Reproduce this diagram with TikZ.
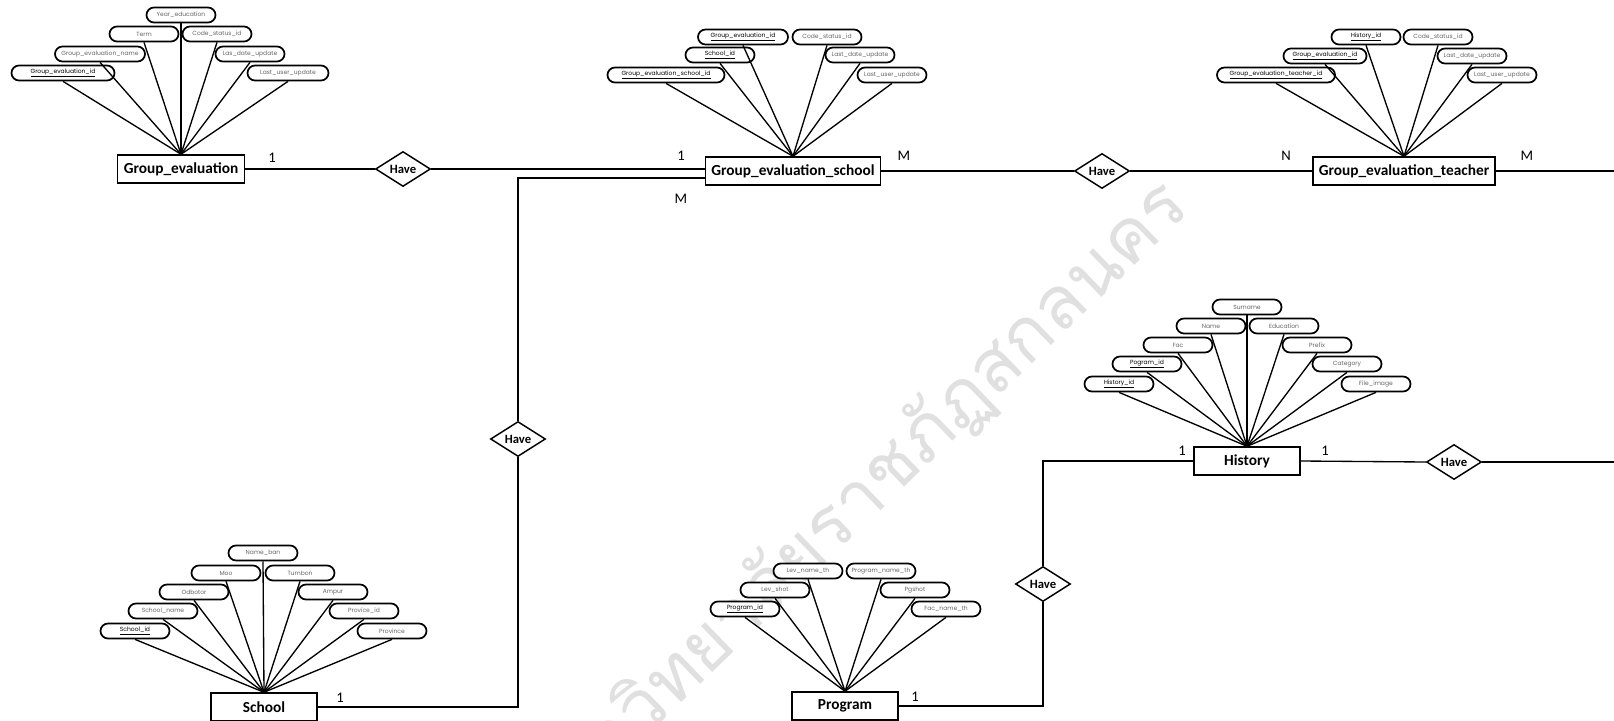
\documentclass[tikz,border=0pt]{standalone}
\usepackage{fontspec}
\setmainfont{Carlito}
\newfontfamily\attrfont{Poppins}
\newfontfamily\thaifont[Script=Thai]{Loma}
\usetikzlibrary{shapes.geometric}

\tikzset{
  entity/.style={draw, line width=1.1pt, fill=white, minimum width=79.5pt, minimum height=21pt,
    inner xsep=4.5pt, font=\bfseries\fontsize{11.5}{12}\selectfont},
  attr/.style={draw, line width=1.3pt, fill=white, rounded corners=5.6pt, minimum width=51.75pt,
    minimum height=11.25pt, inner sep=0pt, text=black!60, font=\attrfont\fontsize{4.5}{5}\selectfont},
  keyattr/.style={attr, text=black},
  relation/.style={diamond, draw, line width=1.1pt, fill=white, inner sep=0pt, minimum width=41.25pt,
    minimum height=26.25pt, font=\bfseries\fontsize{9.5}{10}\selectfont},
  card/.style={font=\fontsize{11}{12}\selectfont},
  link/.style={line width=1pt},
  stamp/.style={rotate=44, anchor=base east, text=black!12, inner sep=0pt,
    font=\thaifont\fontsize{55}{55}\selectfont},
}

\begin{document}
\begin{tikzpicture}[x=0.75pt, y=-0.75pt]
  \useasboundingbox (0,0) rectangle (1614,721);
  % watermark
  \begin{scope}
    \clip (0,0) rectangle (1614,721);
    \node[stamp] (wm) at (1192,210) {มหาวิทยาลัยราชภัฏสกลนคร};
  \end{scope}

  % entities
  \node[entity] (ge)  at (181,169)  {Group\_evaluation};
  \node[entity] (ges) at (793,171)  {Group\_evaluation\_school};
  \node[entity] (get) at (1404,171) {Group\_evaluation\_teacher};
  \node[entity] (his) at (1247,461) {History};
  \node[entity] (sch) at (264,707)  {School};
  \node[entity] (prg) at (845,706)  {Program};

  % relations
  \node[relation] (have1) at (403,169)  {Have};
  \node[relation] (have2) at (1102,171) {Have};
  \node[relation] (have3) at (518,439)  {Have};
  \node[relation] (have4) at (1043,584) {Have};
  \node[relation] (have5) at (1454,462) {Have};
  \coordinate (getend) at (1614,171);
  \coordinate (hisend) at (1614,462);

  % Group_evaluation attributes
  \node[keyattr, minimum width=77.25pt] (ge1) at (63,73) {\underline{Group\_evaluation\_id}};
  \node[attr, minimum width=67.5pt] (ge2) at (100,54) {Group\_evaluation\_name};
  \node[attr] (ge3) at (144,34) {Term};
  \node[attr] (ge4) at (181,15) {Year\_education};
  \node[attr] (ge5) at (217,34) {Code\_status\_id};
  \node[attr] (ge6) at (250,54) {Las\_date\_update};
  \node[attr, minimum width=60.75pt] (ge7) at (288,73) {Last\_user\_update};
  \foreach \i in {1,...,7} \draw[link] (ge\i.south) -- (ge.north);

  % Group_evaluation_school attributes
  \node[keyattr, minimum width=87.75pt] (gs1) at (666,75) {\underline{Group\_evaluation\_school\_id}};
  \node[keyattr] (gs2) at (720,55) {\underline{School\_id}};
  \node[keyattr, minimum width=67.5pt] (gs3) at (743,37) {\underline{Group\_evaluation\_id}};
  \node[attr] (gs4) at (827,37) {Code\_status\_id};
  \node[attr] (gs5) at (860,55) {Last\_date\_update};
  \node[attr] (gs6) at (892,75) {Last\_user\_update};
  \foreach \i in {1,...,6} \draw[link] (gs\i.south) -- (ges.north);

  % Group_evaluation_teacher attributes
  \node[keyattr, minimum width=88.5pt] (gt1) at (1276,75) {\underline{Group\_evaluation\_teacher\_id}};
  \node[keyattr, minimum width=62.25pt] (gt2) at (1325,56) {\underline{Group\_evaluation\_id}};
  \node[keyattr] (gt3) at (1366,37) {\underline{History\_id}};
  \node[attr] (gt4) at (1438,37) {Code\_status\_id};
  \node[attr] (gt5) at (1472,56) {Last\_date\_update};
  \node[attr] (gt6) at (1502,75) {Last\_user\_update};
  \foreach \i in {1,...,6} \draw[link] (gt\i.south) -- (get.north);

  % History attributes
  \node[keyattr] (hs1) at (1119,384) {\underline{History\_id}};
  \node[keyattr] (hs2) at (1147,364) {\underline{Pogram\_id}};
  \node[attr] (hs3) at (1178,345) {Fac};
  \node[attr] (hs4) at (1211,326) {Name};
  \node[attr] (hs5) at (1247,307) {Surname};
  \node[attr] (hs6) at (1284,326) {Education};
  \node[attr] (hs7) at (1317,345) {Prefix};
  \node[attr] (hs8) at (1347,364) {Category};
  \node[attr] (hs9) at (1376,384) {File\_image};
  \foreach \i in {1,...,9} \draw[link] (hs\i.south) -- (his.north);

  % School attributes
  \node[keyattr] (sc1) at (135,631) {\underline{School\_id}};
  \node[attr] (sc2) at (163,611) {School\_name};
  \node[attr] (sc3) at (194,592) {Odbotor};
  \node[attr] (sc4) at (226,573) {Moo};
  \node[attr] (sc5) at (263,553) {Name\_ban};
  \node[attr] (sc6) at (300,573) {Tumbon};
  \node[attr] (sc7) at (333,592) {Ampur};
  \node[attr] (sc8) at (364,611) {Provice\_id};
  \node[attr] (sc9) at (392,631) {Province};
  \foreach \i in {1,...,9} \draw[link] (sc\i.south) -- (sch.north);

  % Program attributes
  \node[keyattr] (pg1) at (745,609) {\underline{Program\_id}};
  \node[attr] (pg2) at (775,590) {Lev\_shot};
  \node[attr] (pg3) at (808,571) {Lev\_name\_th};
  \node[attr] (pg4) at (881,571) {Program\_name\_th};
  \node[attr] (pg5) at (915,590) {Pgshot};
  \node[attr] (pg6) at (946,609) {Fac\_name\_th};
  \foreach \i in {1,...,6} \draw[link] (pg\i.south) -- (prg.north);

  % relationship lines
  \draw[link] (ge.east) -- (have1.west);
  \draw[link] (have1.east) -- (have1.east -| ges.west);
  \draw[link] ([yshift=-5.25pt]ges.west) -| (have3.north);
  \draw[link] (have3.south) |- (sch.east);
  \draw[link] (ges.east) -- (have2.west);
  \draw[link] (have2.east) -- (get.west);
  \draw[link] (get.east) -- (getend);
  \draw[link] (his.west) -| (have4.north);
  \draw[link] (have4.south) |- (prg.east);
  \draw[link] (his.east) -- (have5.west);
  \draw[link] (have5.east) -- (hisend);

  % cardinalities
  \node[card] (c1)  at (272,158)  {1};
  \node[card] (c2)  at (681,156)  {1};
  \node[card] (c3)  at (681,199)  {M};
  \node[card] (c4)  at (904,156)  {M};
  \node[card] (c5)  at (1286,156) {N};
  \node[card] (c6)  at (1527,156) {M};
  \node[card] (c7)  at (340,698)  {1};
  \node[card] (c8)  at (915,697)  {1};
  \node[card] (c9)  at (1182,451) {1};
  \node[card] (c10) at (1325,451) {1};
\end{tikzpicture}
\end{document}
